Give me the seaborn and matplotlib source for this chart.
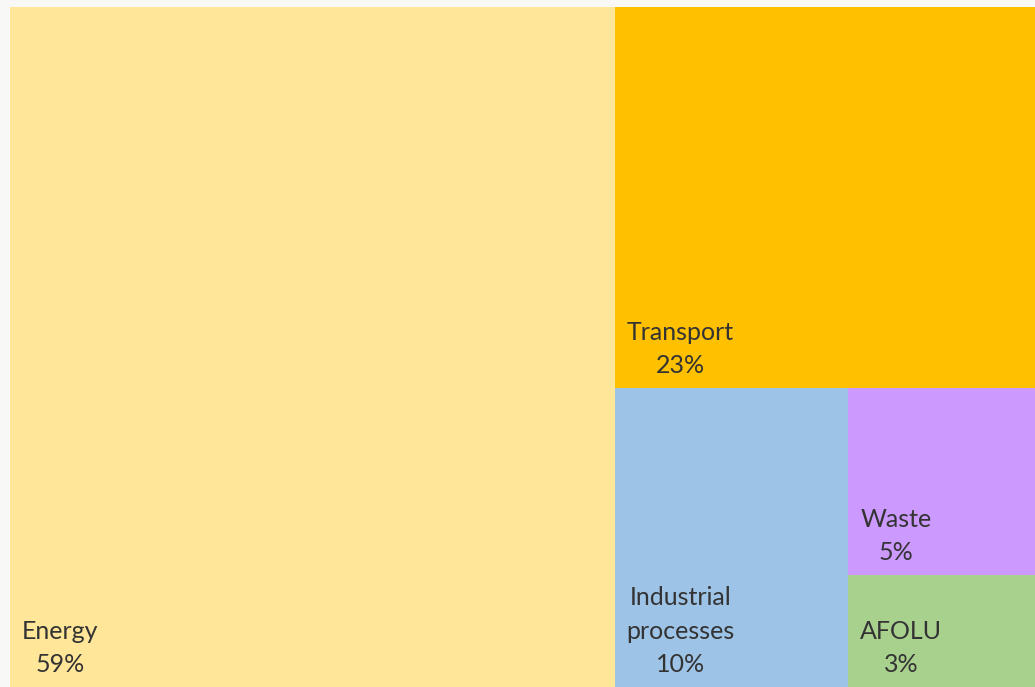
import matplotlib
matplotlib.use("Agg")
import matplotlib.pyplot as plt
import seaborn as sns

# ---- data ----
categories = ["Energy", "Transport", "Industrial\nprocesses", "Waste", "AFOLU"]
shares = [59, 23, 10, 5, 3]
colors = ["#FFE699", "#FFC000", "#9DC3E6", "#CC99FF", "#A9D18E"]

sns.set_theme(style="white")
plt.rcParams["font.family"] = ["Lato", "DejaVu Sans"]

total = float(sum(shares))
# slice-and-dice layout matching the reference arrangement
e, t, ind, w, a = shares
rects = []
W, H = 1.0, 1.0
ew = e / total * W
rects.append((0, 0, ew, H))
rest = total - e
rw = W - ew
th = t / rest * H
rects.append((ew, H - th, rw, th))
low = rest - t
lh = H - th
iw = ind / low * rw
rects.append((ew, 0, iw, lh))
sw = rw - iw
wh = w / (w + a) * lh
rects.append((ew + iw, lh - wh, sw, wh))
rects.append((ew + iw, 0, sw, lh - wh))

fig = plt.figure(figsize=(10.35, 6.87), dpi=100, facecolor="#F8F9F7")
ax = fig.add_axes([10 / 1035, 0, 1025 / 1035, 680 / 687])
for (x0, y0, rw_, rh_), c, cat, s in zip(rects, colors, categories, shares):
    ax.bar(x0, rh_, width=rw_, bottom=y0, align="edge", color=c, edgecolor="none", linewidth=0)
    ax.annotate(f"{cat}\n{s}%", xy=(x0, y0), xytext=(12, 11), textcoords="offset pixels",
                ha="left", va="bottom", multialignment="center", fontsize=18,
                color="#333333", linespacing=1.55)
ax.set_xlim(0, 1)
ax.set_ylim(0, 1)
ax.axis("off")
fig.savefig("out.png", dpi=100, facecolor=fig.get_facecolor())
